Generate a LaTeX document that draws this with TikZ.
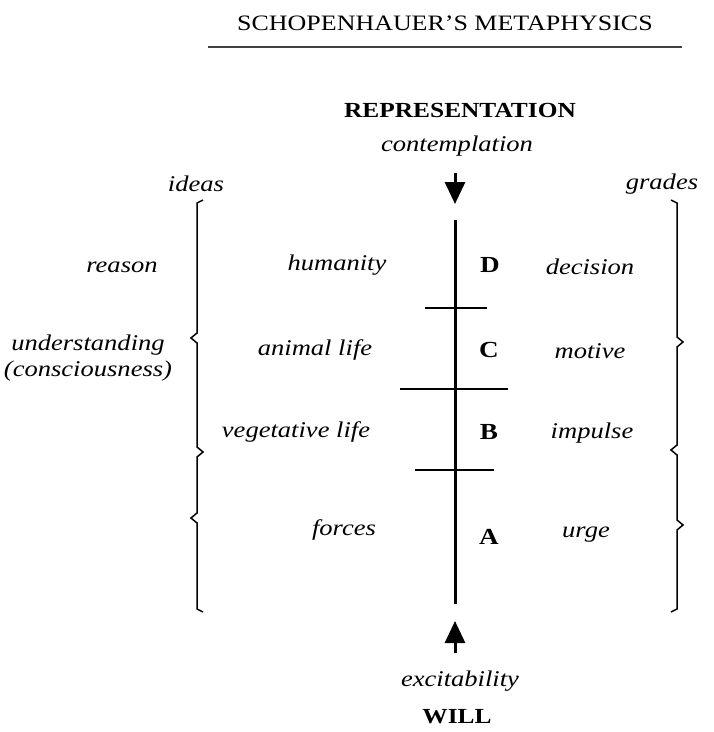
\documentclass[tikz,border=0pt]{standalone}
\usepackage{fontspec}
\setmainfont[FakeStretch=1.18]{Liberation Serif}
\usetikzlibrary{arrows.meta}
\begin{document}
\begin{tikzpicture}[x=1pt,y=-1pt,
  lab/.style={font=\fontsize{22.5}{26}\selectfont\itshape, inner sep=0pt, anchor=center},
  big/.style={font=\fontsize{21.5}{24}\selectfont\bfseries, inner sep=0pt},
  letter/.style={font=\fontsize{23}{26}\selectfont\bfseries, inner sep=0pt},
  brace/.style={line width=1.5pt},
  tick/.style={line width=2.3pt},
  axis/.style={line width=3pt},
  arr/.style={line width=3pt,-{Triangle[length=22pt,width=20pt]}}]
\useasboundingbox (0,0) rectangle (714,732);
% title
\node[font=\fontsize{22}{24}\selectfont, inner sep=0pt] (title) at (445,23) {SCHOPENHAUER'S METAPHYSICS};
\coordinate (r1) at (208,47); \coordinate (r2) at (682,47);
\draw[line width=2pt, black!75] (r1) -- (r2);
% top / bottom labels
\node[big] (rep) at (460,110) {REPRESENTATION};
\node[lab] (cont) at (457,146) {contemplation};
\node[lab] (exc) at (460,681) {excitability};
\node[big] (will) at (457,717) {WILL};
% arrows
\coordinate (a1s) at (455,173); \coordinate (a1e) at (455,204);
\draw[arr] (a1s) -- (a1e);
\coordinate (a2s) at (455,653); \coordinate (a2e) at (455,621);
\draw[arr] (a2s) -- (a2e);
% axis
\coordinate (top) at (455,220); \coordinate (bot) at (455,604);
\draw[axis] (top) -- (bot);
% ticks
\coordinate (t1a) at (425,308); \coordinate (t1b) at (487,308);
\coordinate (t2a) at (400,389); \coordinate (t2b) at (508,389);
\coordinate (t3a) at (415,470); \coordinate (t3b) at (494,470);
\draw[tick] (t1a) -- (t1b);
\draw[tick] (t2a) -- (t2b);
\draw[tick] (t3a) -- (t3b);
% letters
\node[letter] (D) at (490,265) {D};
\node[letter] (C) at (489,350) {C};
\node[letter] (B) at (489,432) {B};
\node[letter] (A) at (489,537) {A};
% middle labels
\node[lab] (hum) at (337,265) {humanity};
\node[lab] (ani) at (315,350) {animal life};
\node[lab] (veg) at (296,432) {vegetative life};
\node[lab] (for) at (344,530) {forces};
% right labels
\node[lab] (dec) at (590,267) {decision};
\node[lab] (mot) at (590,351) {motive};
\node[lab] (imp) at (592,433) {impulse};
\node[lab] (urg) at (586,535) {urge};
% left labels
\node[lab] (rea) at (122,267) {reason};
\node[lab] (und) at (88,345) {understanding};
\node[lab] (con) at (88,371) {(consciousness)};
\node[lab] (ide) at (196,184) {ideas};
\node[lab] (gra) at (662,184) {grades};
% left brace
\draw[brace] (203,200) -- (197,203) -- (197,333) -- (191,338) -- (197,343)
  -- (197,447) -- (203,452) -- (197,457) -- (197,513) -- (191,518) -- (197,523)
  -- (197,609) -- (203,612);
% right brace
\draw[brace] (671,200) -- (677,203) -- (677,337) -- (683,342) -- (677,347)
  -- (677,445) -- (671,450) -- (677,455) -- (677,520) -- (683,525) -- (677,530)
  -- (677,609) -- (671,612);
\end{tikzpicture}
\end{document}
